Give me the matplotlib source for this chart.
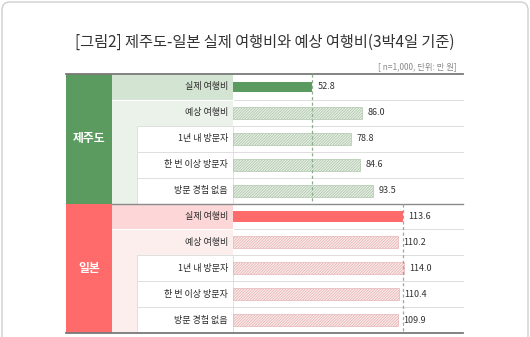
import matplotlib.pyplot as plt
from matplotlib.patches import Rectangle, FancyBboxPatch

plt.rcParams['font.family'] = ['Noto Sans CJK KR', 'DejaVu Sans']
plt.rcParams['hatch.linewidth'] = 0.45

# data
regions = ['제주도', '일본']
labels = ['실제 여행비', '예상 여행비', '1년 내 방문자', '한 번 이상 방문자', '방문 경험 없음']
jeju = [52.8, 86.0, 78.8, 84.6, 93.5]
japan = [113.6, 110.2, 114.0, 110.4, 109.9]

# style per region
main_col = ['#5b9b60', '#ff6b6b']
head_bg = ['#d4e4d2', '#fdd6d7']
pale_bg = ['#ebf2ea', '#fdeeee']
hatch_face = ['#e6eee4', '#fbeaea']
hatch_col = ['#a3bfa0', '#e2aaaa']
dash_col = ['#8fae8f', '#b89a9a']

W, H = 530, 337
fig = plt.figure(figsize=(W / 100, H / 100), dpi=100)

bg = fig.add_axes([0, 0, 1, 1])
bg.set_xlim(0, W)
bg.set_ylim(H, 0)
bg.axis('off')

bg.add_patch(FancyBboxPatch((2, 2), W - 4, H + 20, boxstyle='round,pad=0,rounding_size=8',
                            fc='white', ec='#cfcfcf', lw=1))
bg.text(W / 2, 42, '[그림2] 제주도-일본 실제 여행비와 예상 여행비(3박4일 기준)',
        ha='center', va='center', fontsize=11, color='#333333')
bg.text(457, 67, '[ n=1,000, 단위: 만 원]', ha='right', va='center',
        fontsize=6, color='#888888')

top0 = 74
rh = 25.9
x_reg, x_lab, x_ind, x_bar, x_end = 66, 112, 137, 233, 463

for s, name in enumerate(regions):
    top = top0 + s * 5 * rh
    bg.add_patch(Rectangle((x_reg, top), x_lab - x_reg, 5 * rh, fc=main_col[s], ec='none'))
    bg.text((x_reg + x_lab) / 2, top + 2.5 * rh, name, ha='center', va='center',
            fontsize=8.5, color='white', fontweight='bold')
    bg.add_patch(Rectangle((x_lab, top), x_bar - x_lab, rh, fc=head_bg[s], ec='none'))
    bg.add_patch(Rectangle((x_lab, top + rh), x_bar - x_lab, 4 * rh, fc=pale_bg[s], ec='none'))
    for i in range(2, 5):
        bg.add_patch(Rectangle((x_ind, top + i * rh), x_bar - x_ind, rh, fc='white',
                               ec='#dcdcdc', lw=0.6))
    for i in range(1, 5):
        bg.plot([x_bar, x_end], [top + i * rh] * 2, color='#dddddd', lw=0.7)
    bg.plot([x_lab, x_bar], [top + rh] * 2, color='white', lw=0.8)
    for i, lab in enumerate(labels):
        bg.text(228, top + (i + 0.5) * rh, lab, ha='right', va='center',
                fontsize=6.5, color='#2a2a2a', fontweight='medium')

bg.plot([x_reg, x_end], [top0, top0], color='#7a7a7a', lw=1.3)
bg.plot([x_lab, x_end], [top0 + 5 * rh] * 2, color='#8a8a8a', lw=1.0)
bg.plot([x_reg, x_end], [top0 + 10 * rh] * 2, color='#7a7a7a', lw=1.3)

# bar axes
ax = fig.add_axes([x_bar / W, (H - top0 - 10 * rh) / H, (x_end - x_bar) / W, 10 * rh / H])
ax.set_xlim(0, (x_end - x_bar) / 1.5)
ax.set_ylim(9.5, -0.5)
ax.axis('off')
ax.patch.set_alpha(0)

for s, vals in enumerate([jeju, japan]):
    for i, v in enumerate(vals):
        y = s * 5 + i
        if i == 0:
            ax.barh(y, v, height=0.39, color=main_col[s], lw=0)
        else:
            ax.barh(y, v, height=0.46, facecolor=hatch_face[s], edgecolor=hatch_col[s],
                    hatch='////////////', lw=0.4)
        ax.text(v + 3.5, y, f'{v:.1f}', ha='left', va='center', fontsize=6.5,
                color='#333333')
    ax.vlines(vals[0], s * 5 - 0.5, s * 5 + 4.5, colors=dash_col[s], lw=0.9,
              linestyles=(0, (2.5, 2)))

fig.savefig('out.png', dpi=100)
